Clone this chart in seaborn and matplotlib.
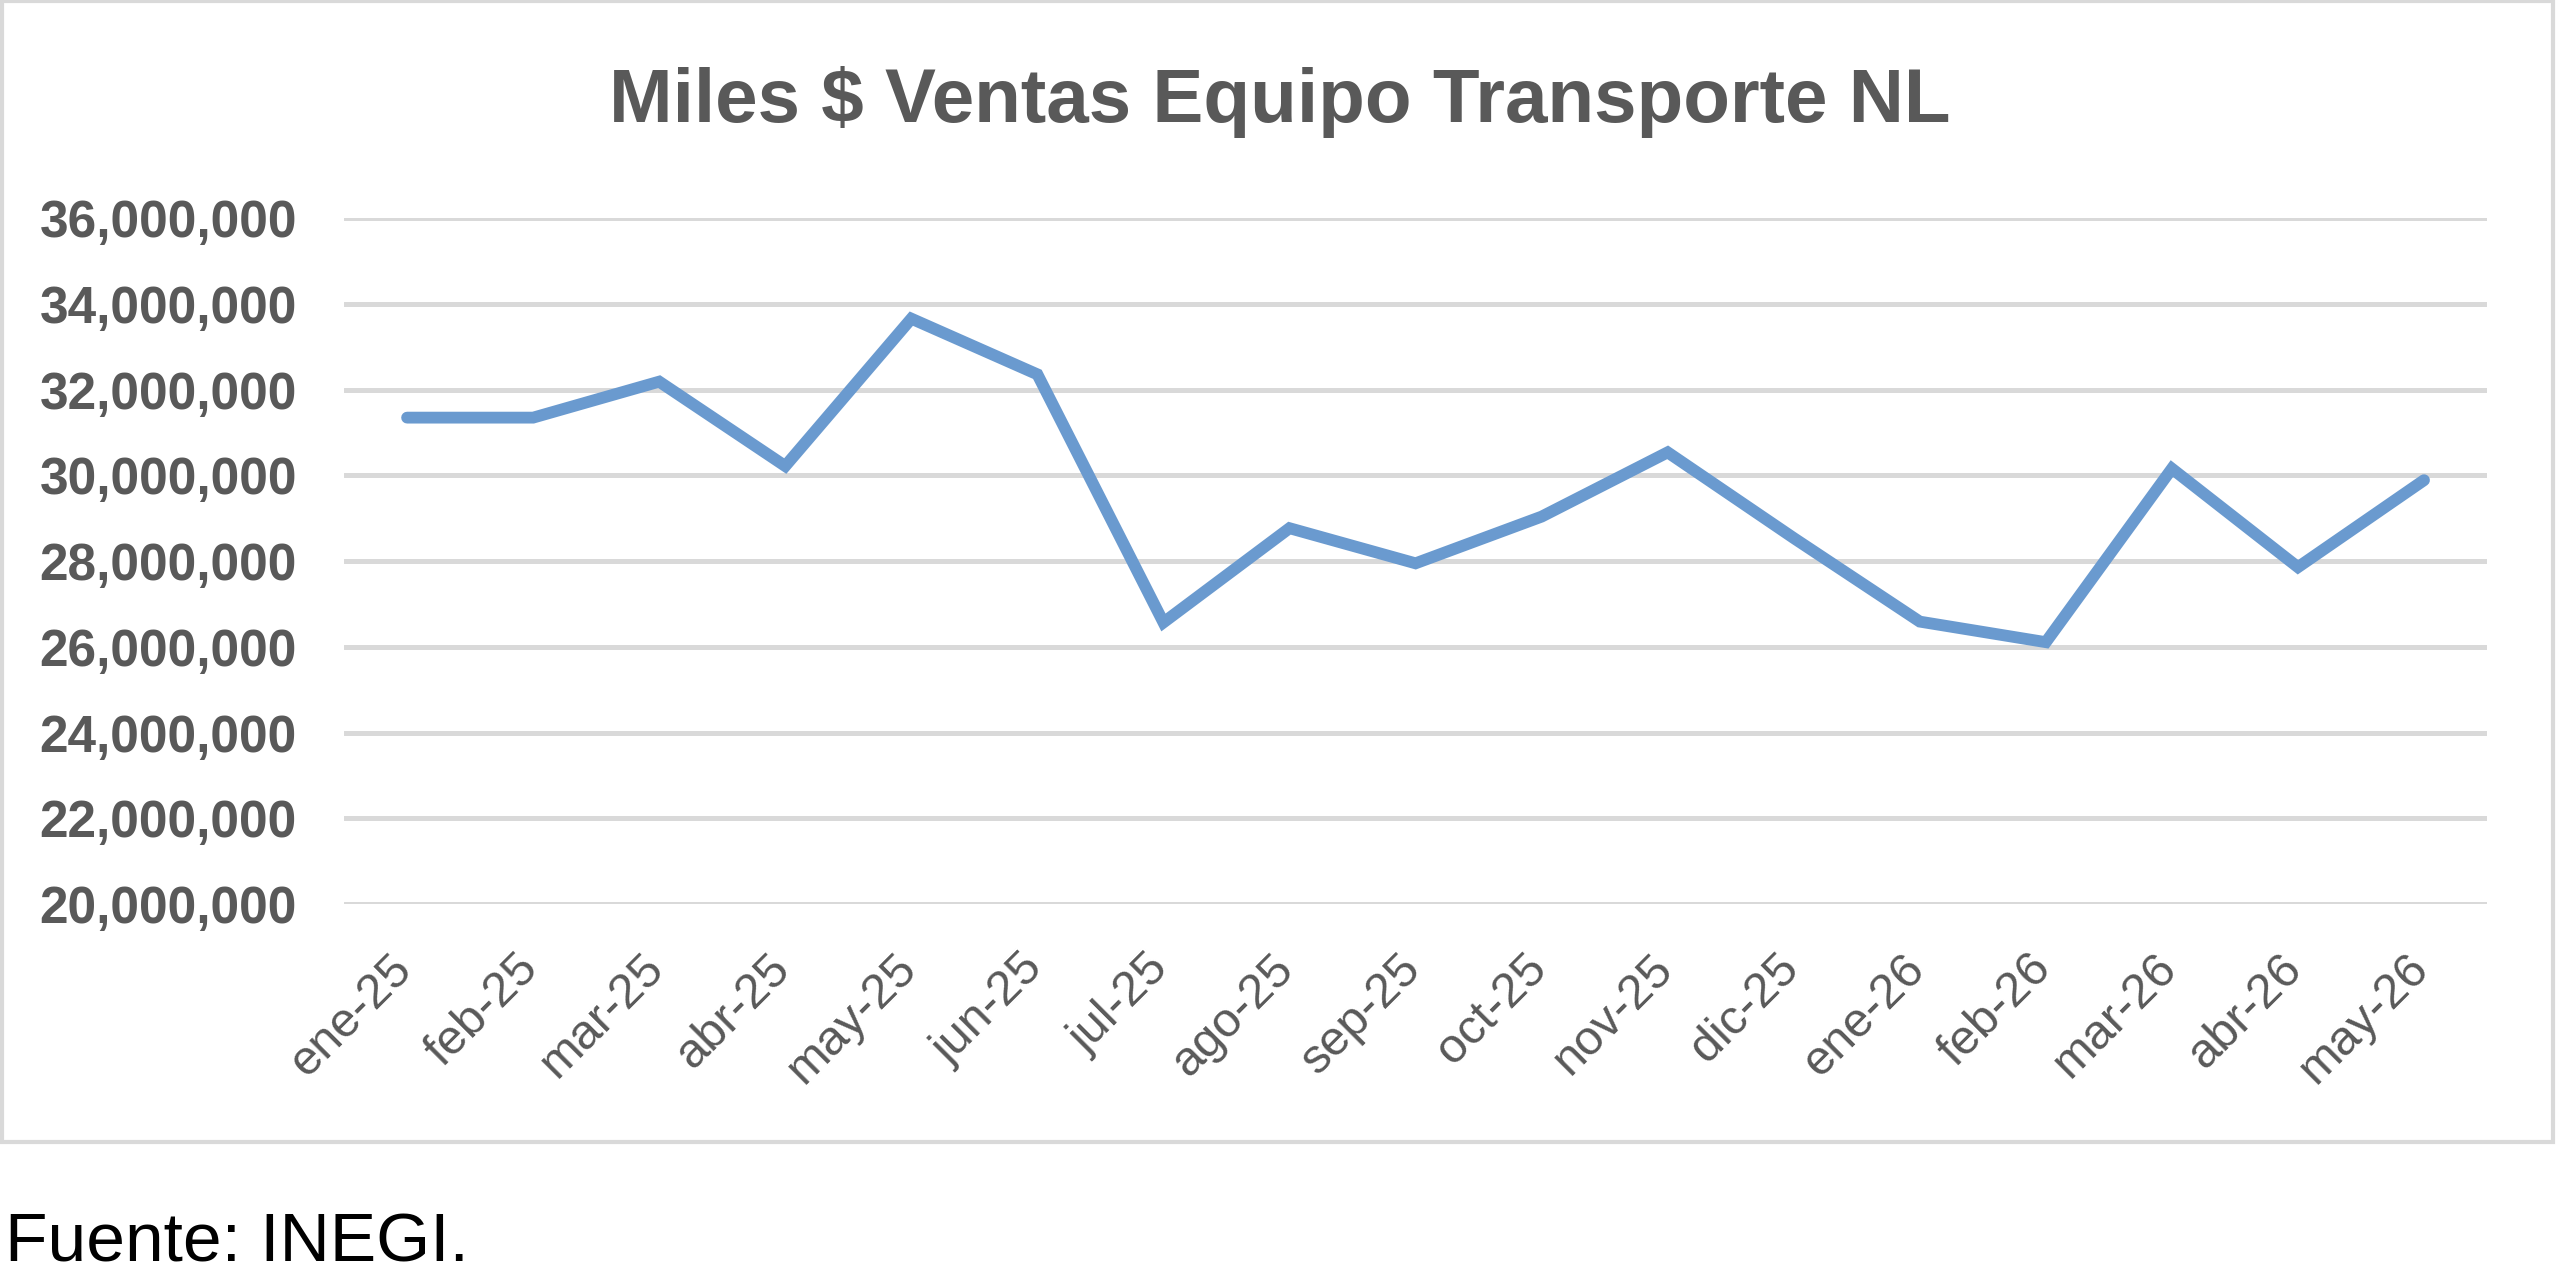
import numpy as np
import pandas as pd
import seaborn as sns
from matplotlib import pyplot as plt
from matplotlib.patches import Rectangle
from matplotlib.ticker import FuncFormatter
from matplotlib.transforms import ScaledTranslation

# data
months = ["ene-25", "feb-25", "mar-25", "abr-25", "may-25", "jun-25",
          "jul-25", "ago-25", "sep-25", "oct-25", "nov-25", "dic-25",
          "ene-26", "feb-26", "mar-26", "abr-26", "may-26"]
ventas = [31350000, 31350000, 32190000, 30220000, 33660000, 32360000,
          26570000, 28770000, 27950000, 29040000, 30540000, 28540000,
          26590000, 26110000, 30160000, 27860000, 29890000]
y_ticks = [20000000, 22000000, 24000000, 26000000, 28000000,
           30000000, 32000000, 34000000, 36000000]

title = "Miles $ Ventas Equipo Transporte NL"
source = "Fuente: INEGI."

GRAY_TXT = "#595959"
GRID = "#D9D9D9"
LINE = "#6A9ACF"


def main():
    sns.set_theme(style="white")
    plt.rcParams["font.family"] = ["Liberation Sans", "DejaVu Sans"]

    df = pd.DataFrame({"idx": np.arange(len(months)), "ventas": ventas})

    fig = plt.figure(figsize=(25.6, 12.83), dpi=100)
    ax = fig.add_axes([0.1344, 0.2954, 0.8371, 0.5344])

    sns.lineplot(data=df, x="idx", y="ventas", ax=ax, color=LINE,
                 linewidth=8.5, solid_joinstyle="miter", solid_capstyle="round")

    ax.set_xlim(-0.5, len(months) - 0.5)
    ax.set_ylim(y_ticks[0], y_ticks[-1])
    ax.set_yticks(y_ticks)
    ax.yaxis.set_major_formatter(FuncFormatter(lambda v, p: f"{v:,.0f}"))
    ax.set_xticks(df["idx"])
    ax.set_xticklabels(months, rotation=45, ha="right")

    ax.tick_params(axis="y", length=0, pad=34, labelsize=37,
                   labelcolor=GRAY_TXT)
    ax.tick_params(axis="x", length=0, pad=30, labelsize=35,
                   labelcolor=GRAY_TXT)
    for lab in ax.get_yticklabels():
        lab.set_fontweight("bold")
    # nudge rotated labels so their top-right end sits on the category
    shift = ScaledTranslation(10 / 72, 0, fig.dpi_scale_trans)
    for lab in ax.get_xticklabels():
        lab.set_transform(lab.get_transform() + shift)

    ax.yaxis.grid(True, color=GRID, linewidth=3.6)
    ax.xaxis.grid(False)
    ax.set_axisbelow(True)
    for s in ax.spines.values():
        s.set_visible(False)
    ax.set_xlabel("")
    ax.set_ylabel("")

    fig.text(0.5, 0.905, title, ha="center", va="baseline", fontsize=55,
             fontweight="bold", color=GRAY_TXT)
    fig.text(0.002, 1 - 1262 / 1283, source, ha="left", va="baseline",
             fontsize=50, color="black")

    # chart frame like the Excel chart area
    fig.patches.append(Rectangle((0.0006, 1 - 1142 / 1283), 0.9966,
                                 1142 / 1283 - 0.0008,
                                 transform=fig.transFigure, fill=False,
                                 edgecolor=GRID, linewidth=3))

    fig.savefig("out.png", dpi=100, facecolor="white")


if __name__ == "__main__":
    main()
